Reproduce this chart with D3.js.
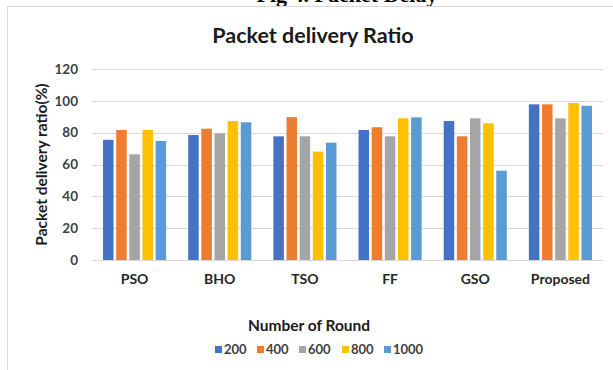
<!DOCTYPE html>
<html>
<head>
<meta charset="utf-8">
<script src="https://cdn.jsdelivr.net/npm/d3@7"></script>
<style>
  html, body { margin: 0; padding: 0; background: #fff; }
  svg { display: block; }
</style>
</head>
<body>
<svg id="chart" width="613" height="370"></svg>
<script>
// Packet delivery ratio per algorithm, grouped by number of rounds
const categories = ["PSO", "BHO", "TSO", "FF", "GSO", "Proposed"];
const rounds = ["200", "400", "600", "800", "1000"];
const r200  = [75.5, 78.5, 77.7, 81.7, 87.3, 97.8];
const r400  = [81.7, 82.5, 89.8, 83.4, 77.7, 97.8];
const r600  = [66.4, 79.6, 77.7, 77.7, 89.0, 89.0];
const r800  = [81.7, 87.3, 68.1, 89.0, 85.9, 98.6];
const r1000 = [74.8, 86.5, 73.7, 89.6, 56.1, 96.9];
const yTicks = [0, 20, 40, 60, 80, 100, 120];
const colors = ["#4472C4", "#ED7D31", "#A5A5A5", "#FFC000", "#5B9BD5"];

const seriesValues = [r200, r400, r600, r800, r1000];
const rows = categories.map((c, i) => ({
  cat: c,
  vals: rounds.map((r, j) => ({ key: r, value: seriesValues[j][i] }))
}));

const svg = d3.select("#chart");
const font = "Lato, 'Open Sans', sans-serif";

// caption of the figure, mostly above the visible area
svg.append("text")
  .attr("x", 347).attr("y", 1.5)
  .attr("text-anchor", "middle")
  .attr("font-family", "'Liberation Serif', serif")
  .attr("font-weight", "bold")
  .attr("font-size", 22)
  .attr("fill", "#000")
  .text("Fig 4. Packet Delay");

// chart frame
svg.append("rect")
  .attr("x", 7.5).attr("y", 6.5)
  .attr("width", 800).attr("height", 500)
  .attr("fill", "#fff")
  .attr("stroke", "#d9d9d9")
  .attr("stroke-width", 1);

const plot = { left: 92, right: 603, top: 69, bottom: 260 };

const x0 = d3.scaleBand().domain(categories).range([plot.left, plot.right]).padding(0);
const groupW = x0.bandwidth() * 0.741;
const x1 = d3.scaleBand().domain(rounds).range([0, groupW]).paddingInner(0.2);
const y = d3.scaleLinear().domain([0, 120]).range([plot.bottom, plot.top]);
const color = d3.scaleOrdinal().domain(rounds).range(colors);

// horizontal gridlines
svg.append("g")
  .selectAll("line")
  .data(yTicks.filter(t => t > 0))
  .join("line")
  .attr("x1", plot.left).attr("x2", plot.right)
  .attr("y1", d => Math.round(y(d)) + 0.5)
  .attr("y2", d => Math.round(y(d)) + 0.5)
  .attr("stroke", "#d9d9d9")
  .attr("stroke-width", 1);

// y axis labels
const yAxis = svg.append("g")
  .attr("transform", `translate(${plot.left - 14},0)`)
  .call(d3.axisLeft(y).tickValues(yTicks).tickSize(0).tickPadding(0));
yAxis.select(".domain").remove();
yAxis.selectAll("text")
  .attr("font-family", font)
  .attr("font-weight", "bold")
  .attr("font-size", 13.5)
  .attr("fill", "#404040");

// bars
svg.append("g")
  .selectAll("g")
  .data(rows)
  .join("g")
  .attr("transform", d => `translate(${x0(d.cat) + (x0.bandwidth() - groupW) / 2},0)`)
  .selectAll("rect")
  .data(d => d.vals)
  .join("rect")
  .attr("x", d => x1(d.key))
  .attr("width", x1.bandwidth())
  .attr("y", d => y(d.value))
  .attr("height", d => y(0) - y(d.value))
  .attr("fill", d => color(d.key));

// x axis line and category labels
const xAxis = svg.append("g")
  .attr("transform", `translate(0,${plot.bottom})`)
  .call(d3.axisBottom(x0).tickSize(0).tickPadding(14));
xAxis.select(".domain")
  .attr("stroke", "#d9d9d9")
  .attr("d", `M${plot.left},0.5H${plot.right}`);
xAxis.selectAll("text")
  .attr("font-family", font)
  .attr("font-weight", "bold")
  .attr("font-size", 14)
  .attr("fill", "#262626");

// chart title
svg.append("text")
  .attr("x", 313).attr("y", 43)
  .attr("text-anchor", "middle")
  .attr("font-family", font)
  .attr("font-weight", "bold")
  .attr("font-size", 21.5)
  .attr("fill", "#1a1a1a")
  .text("Packet delivery Ratio");

// y axis title
svg.append("text")
  .attr("transform", `translate(47,${(plot.top + plot.bottom) / 2}) rotate(-90)`)
  .attr("text-anchor", "middle")
  .attr("font-family", font)
  .attr("font-weight", "bold")
  .attr("font-size", 15.5)
  .attr("fill", "#1a1a1a")
  .text("Packet delivery ratio(%)");

// x axis title
svg.append("text")
  .attr("x", 309).attr("y", 331)
  .attr("text-anchor", "middle")
  .attr("font-family", font)
  .attr("font-weight", "bold")
  .attr("font-size", 15.5)
  .attr("fill", "#1a1a1a")
  .text("Number of Round");

// legend
const legendX = [215, 257, 299, 342, 384];
const legend = svg.append("g")
  .selectAll("g")
  .data(rounds)
  .join("g")
  .attr("transform", (d, i) => `translate(${legendX[i]},346)`);
legend.append("rect")
  .attr("width", 7).attr("height", 7)
  .attr("y", 0)
  .attr("fill", d => color(d));
legend.append("text")
  .attr("x", 9).attr("y", 8)
  .attr("font-family", font)
  .attr("font-weight", "bold")
  .attr("font-size", 13)
  .attr("fill", "#404040")
  .text(d => d);
</script>
</body>
</html>
